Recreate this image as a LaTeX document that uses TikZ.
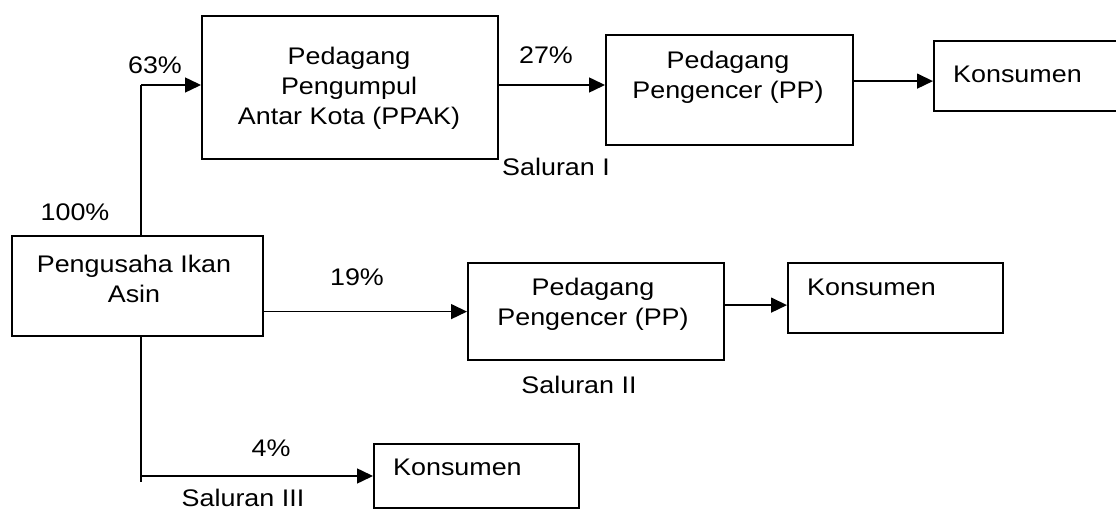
\documentclass[tikz,border=0pt]{standalone}
\usepackage{fontspec}
\setmainfont{Liberation Sans}[FakeStretch=1.12]
\usepackage{tikz}
\usetikzlibrary{positioning,calc,arrows.meta}

\tikzset{
    box/.style={draw, line width=2.2pt, anchor=north west, inner sep=0pt},
    txt/.style={align=center, inner sep=0pt},
    flow/.style={line width=1.5pt, -{Triangle[length=16pt,width=15pt]}}
}

\begin{document}
\begin{tikzpicture}[x=1pt, y=-1pt, font=\fontsize{24}{30}\selectfont]
    \useasboundingbox (0,0) rectangle (1116,510);

    % Pengusaha
    \node[box, minimum width=251pt, minimum height=100pt] (usaha) at (11,235) {};
    \node[txt] (usahatxt) at (134,279) {Pengusaha Ikan\\Asin};
    \node[txt] (p100) at (75,212) {100\%};

    % Saluran I
    \node[box, minimum width=296pt, minimum height=143pt] (ppak) at (201,15) {};
    \node[txt] (ppaktxt) at (349,88) {Pedagang\\Pengumpul\\Antar Kota (PPAK)};
    \node[box, minimum width=247pt, minimum height=110pt] (pp1) at (605,34) {};
    \node[txt] (pp1txt) at (728,77) {Pedagang\\Pengencer (PP)};
    \node[box, minimum width=200pt, minimum height=70pt] (kons1) at (933,40) {};
    \node[txt, anchor=west] (kons1txt) at (953,74) {Konsumen};
    \node[txt] (p63) at (155,65) {63\%};
    \node[txt] (p27) at (546,55) {27\%};
    \node[txt] (sal1) at (556,167) {Saluran I};

    % Saluran II
    \node[box, minimum width=256pt, minimum height=97pt] (pp2) at (467,262) {};
    \node[txt] (pp2txt) at (593,304) {Pedagang\\Pengencer (PP)};
    \node[box, minimum width=215pt, minimum height=70pt] (kons2) at (787,262) {};
    \node[txt, anchor=west] (kons2txt) at (807,287) {Konsumen};
    \node[txt] (p19) at (357,277) {19\%};
    \node[txt] (sal2) at (579,385) {Saluran II};

    % Saluran III
    \node[box, minimum width=205pt, minimum height=64pt] (kons3) at (373,443) {};
    \node[txt, anchor=west] (kons3txt) at (393,467) {Konsumen};
    \node[txt] (p4) at (271,448) {4\%};
    \node[txt] (sal3) at (243,498) {Saluran III};

    % Connectors
    \coordinate (up) at (141,85);
    \coordinate (down) at (141,476);
    \coordinate (k1in) at ([yshift=-5pt]kons1.west);
    \coordinate (k2in) at ([yshift=-7pt]kons2.west);
    \draw[line width=1.5pt] (usaha.north -| up) -- (up);
    \draw[flow] (up) -- (ppak.west |- up);
    \draw[flow] (ppak.east |- up) -- (pp1.west |- up);
    \draw[flow] (pp1.east |- k1in) -- (k1in);
    \draw[flow] (usaha.east |- pp2.west) -- (pp2.west);
    \draw[flow] (pp2.east |- k2in) -- (k2in);
    \draw[line width=1.5pt] (usaha.south -| down) -- ($(down)+(0,6)$);
    \draw[flow] (down) -- (kons3.west |- down);
\end{tikzpicture}
\end{document}
